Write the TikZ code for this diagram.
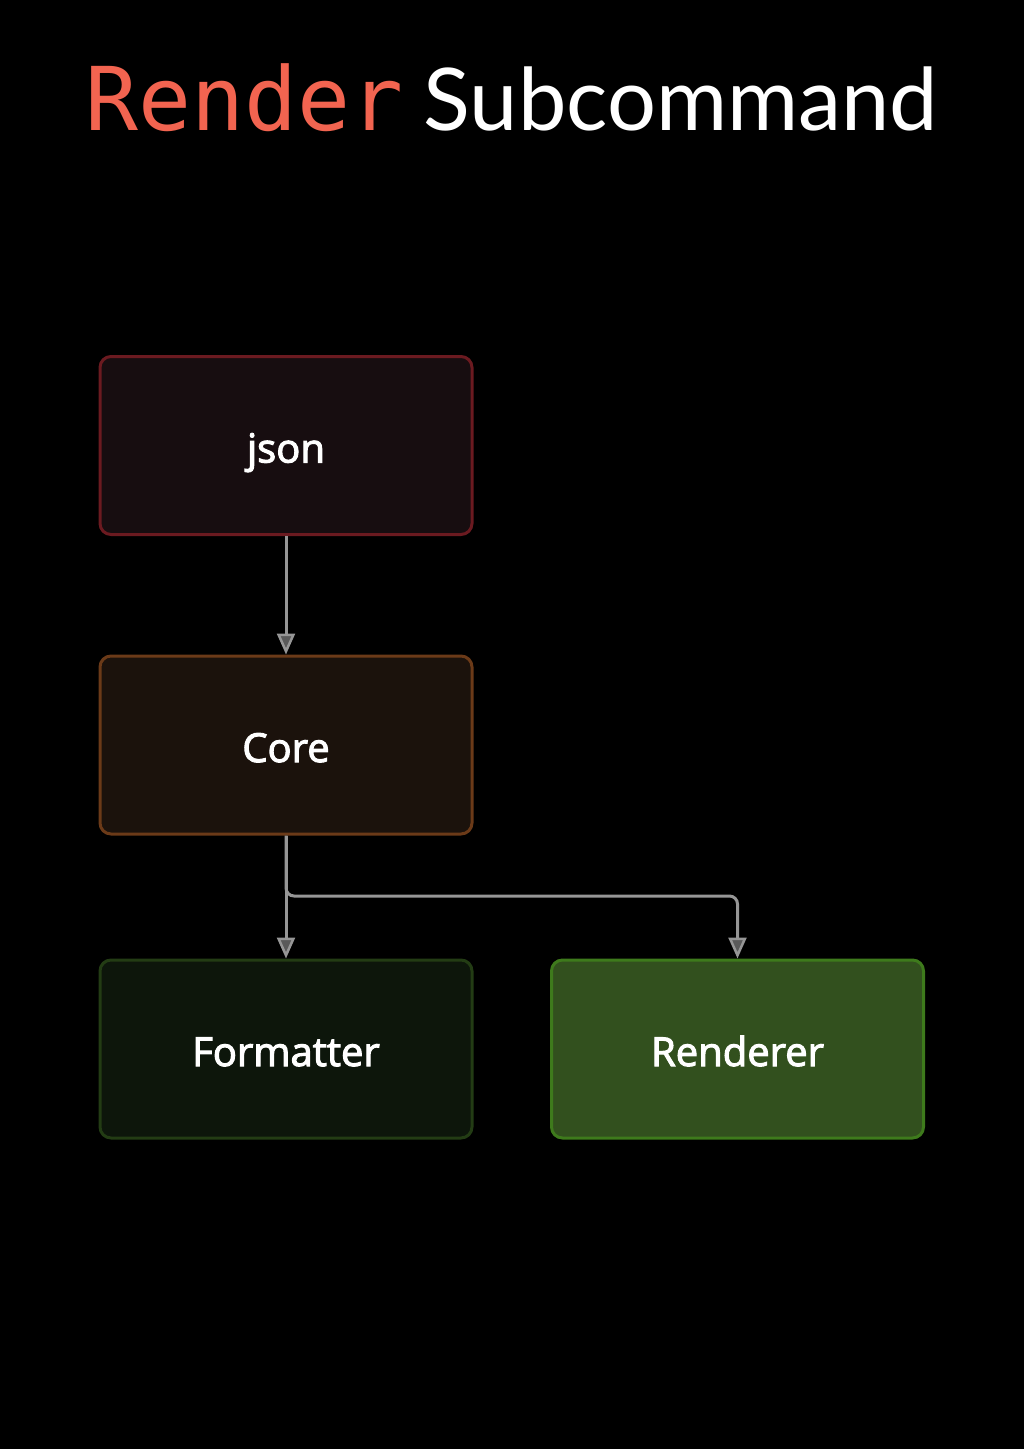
\documentclass[tikz,border=0pt]{standalone}
\usepackage{fontspec}
\setmainfont{Open Sans}[FakeBold=2.6]
\newfontfamily\titlemono{DejaVu Sans Mono}
\newfontfamily\titlesans{Lato}
\usetikzlibrary{arrows.meta}
\definecolor{bgc}{HTML}{000000}
\definecolor{titlered}{HTML}{F26450}
\definecolor{jsonfill}{HTML}{170D10}
\definecolor{jsonline}{HTML}{6B1A20}
\definecolor{corefill}{HTML}{1B120C}
\definecolor{coreline}{HTML}{6B3A18}
\definecolor{fmtfill}{HTML}{0D160B}
\definecolor{fmtline}{HTML}{233C14}
\definecolor{rndfill}{HTML}{32501E}
\definecolor{rndline}{HTML}{3E7A1C}
\definecolor{edgec}{HTML}{969696}
\newcommand{\boxlabel}[1]{\raisebox{-17pt}[0pt][0pt]{#1}}
\tikzset{
  box/.style={draw, line width=3pt, rounded corners=11pt, minimum width=372pt, minimum height=178pt, text=white, font=\fontsize{40}{46}\selectfont, inner sep=0pt},
  flow/.style={draw=edgec, line width=3pt, rounded corners=8pt, -{Triangle[length=21pt,width=18pt,fill=edgec!60!black,line width=2.5pt]}},
}
\begin{document}
\begin{tikzpicture}[x=1pt,y=-1pt]
\fill[bgc] (0,0) rectangle (1024,1449);
\useasboundingbox (0,0) rectangle (1024,1449);
\node[anchor=base, inner sep=0pt] (title) at (512,130) {\textcolor{titlered}{\fontsize{88}{100}\selectfont\titlemono Render}\hspace{20pt}\textcolor{white}{\fontsize{86.5}{100}\selectfont\titlesans Subcommand}};
\node[box, fill=jsonfill, draw=jsonline] (json) at (286,445.5) {\boxlabel{json}};
\node[box, fill=corefill, draw=coreline] (core) at (286,745) {\boxlabel{Core}};
\node[box, fill=fmtfill, draw=fmtline] (fmt) at (286,1049) {\boxlabel{Formatter}};
\node[box, fill=rndfill, draw=rndline] (rnd) at (737.5,1049) {\boxlabel{Renderer}};
\draw[flow] (json.south) -- (core.north);
\draw[flow] (core.south) -- (fmt.north);
\draw[flow] (core.south) |- (512,896) -| (rnd.north);
\end{tikzpicture}
\end{document}
